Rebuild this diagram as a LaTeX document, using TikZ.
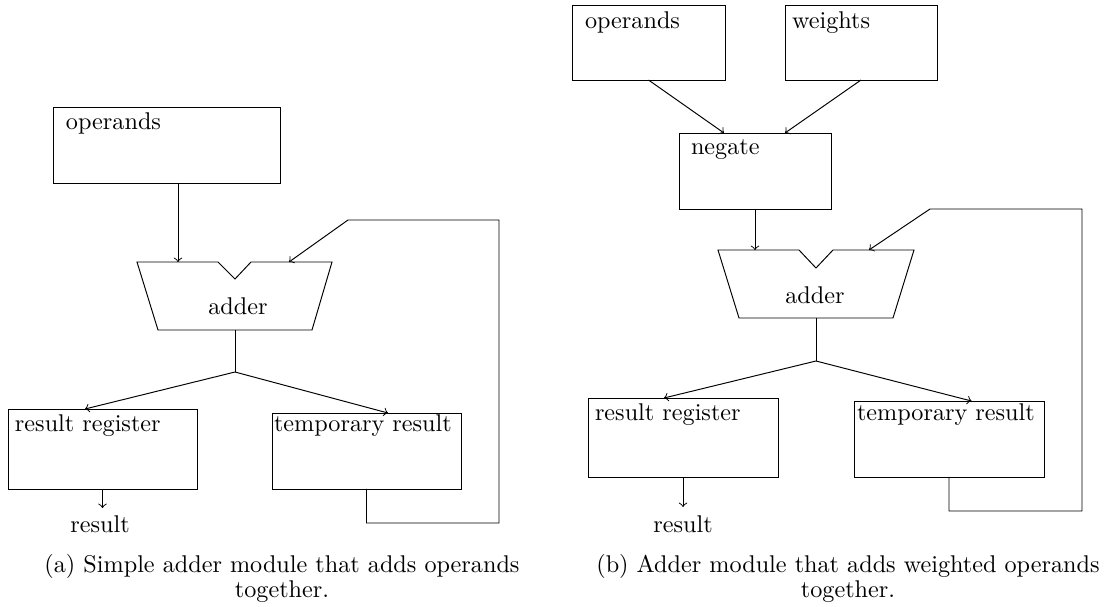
\documentclass[tikz,border=0pt]{standalone}
\usetikzlibrary{calc}
\begin{document}
\begin{tikzpicture}[x=0.41322pt,y=-0.41322pt,
  box/.style={draw,inner sep=0pt,outer sep=0pt},
  lbl/.style={inner sep=0pt,outer sep=0pt,anchor=base west},
  ctr/.style={inner sep=0pt,outer sep=0pt,anchor=base},
  conn/.style={->},
  line/.style={}]
\useasboundingbox (0,0) rectangle (1111,607);

% ================= (a) =================
\node[box,minimum width=93.80pt,minimum height=31.40pt] (opA) at (166.5,145) {};
\node[lbl] (opAt) at (66,129) {operands};

\coordinate (aA1) at (137,262);
\coordinate (aA2) at (218,262);
\coordinate (aA3) at (235,279);
\coordinate (aA4) at (251,262);
\coordinate (aA5) at (332,262);
\coordinate (aA6) at (312,330);
\coordinate (aA7) at (158,330);
\draw (aA1) -- (aA2) -- (aA3) -- (aA4) -- (aA5) -- (aA6) -- (aA7) -- cycle;
\node[ctr] (addA) at (238,314) {adder};
\coordinate (inA1) at (178,262);
\coordinate (inA2) at (289,262);
\coordinate (outA) at (235,330);
\coordinate (jA) at (235,372);

\node[box,minimum width=78.10pt,minimum height=33.06pt] (rrA) at (102.5,449) {};
\node[lbl] (rrAt) at (15,431) {result register};
\node[box,minimum width=78.10pt,minimum height=31.40pt] (trA) at (366.5,451) {};
\node[lbl] (trAt) at (274,431) {temporary result};
\node[ctr] (resA) at (100,532) {result};

\draw[conn] (opA.south -| inA1) -- (inA1);
\draw (outA) -- (jA);
\draw[conn] (jA) -- ([xshift=-7.23pt]rrA.north);
\draw[conn] (jA) -- ([xshift=8.88pt]trA.north);
\draw[conn] (rrA.south) -- ++(0,19);
\coordinate (fA1) at (366.5,523);
\coordinate (fA2) at (499,523);
\coordinate (fA3) at (499,220);
\coordinate (fA4) at (348,220);
\draw[conn] (trA.south) -- (fA1) -- (fA2) -- (fA3) -- (fA4) -- (inA2);

\node[ctr] (capA1) at (282,572) {(a) Simple adder module that adds operands};
\node[ctr] (capA2) at (282,597) {together.};

% ================= (b) =================
\node[box,minimum width=63.22pt,minimum height=30.99pt] (opB) at (648.5,42.5) {};
\node[lbl] (opBt) at (585,28) {operands};
\node[box,minimum width=62.81pt,minimum height=30.99pt] (wB) at (861,42.5) {};
\node[lbl] (wBt) at (792,28) {weights};
\node[box,minimum width=62.81pt,minimum height=31.40pt] (ngB) at (755,171) {};
\node[lbl] (ngBt) at (691,154) {negate};

\draw[conn] (opB.south) -- ([xshift=-12.81pt]ngB.north);
\draw[conn] (wB.south) -- ([xshift=12.40pt]ngB.north);

\coordinate (aB1) at (718,250);
\coordinate (aB2) at (799,250);
\coordinate (aB3) at (816,268);
\coordinate (aB4) at (833,250);
\coordinate (aB5) at (914,250);
\coordinate (aB6) at (893,318);
\coordinate (aB7) at (739,318);
\draw (aB1) -- (aB2) -- (aB3) -- (aB4) -- (aB5) -- (aB6) -- (aB7) -- cycle;
\node[ctr] (addB) at (815,303) {adder};
\coordinate (inB1) at (755,250);
\coordinate (inB2) at (869,250);
\coordinate (outB) at (816,318);
\coordinate (jB) at (816,361);

\draw[conn] (ngB.south) -- (inB1);

\node[box,minimum width=78.51pt,minimum height=32.64pt] (rrB) at (683,437.5) {};
\node[lbl] (rrBt) at (595,420) {result register};
\node[box,minimum width=78.51pt,minimum height=31.40pt] (trB) at (949,439) {};
\node[lbl] (trBt) at (857,420) {temporary result};
\node[ctr] (resB) at (683,532) {result};

\draw (outB) -- (jB);
\draw[conn] (jB) -- ([xshift=-7.85pt]rrB.north);
\draw[conn] (jB) -- ([xshift=9.30pt]trB.north);
\draw[conn] (rrB.south) -- ++(0,30);
\coordinate (fB1) at (949,511);
\coordinate (fB2) at (1082,511);
\coordinate (fB3) at (1082,209);
\coordinate (fB4) at (930,209);
\draw[conn] (trB.south) -- (fB1) -- (fB2) -- (fB3) -- (fB4) -- (inB2);

\node[ctr] (capB1) at (848,572) {(b) Adder module that adds weighted operands};
\node[ctr] (capB2) at (848,597) {together.};
\end{tikzpicture}
\end{document}
